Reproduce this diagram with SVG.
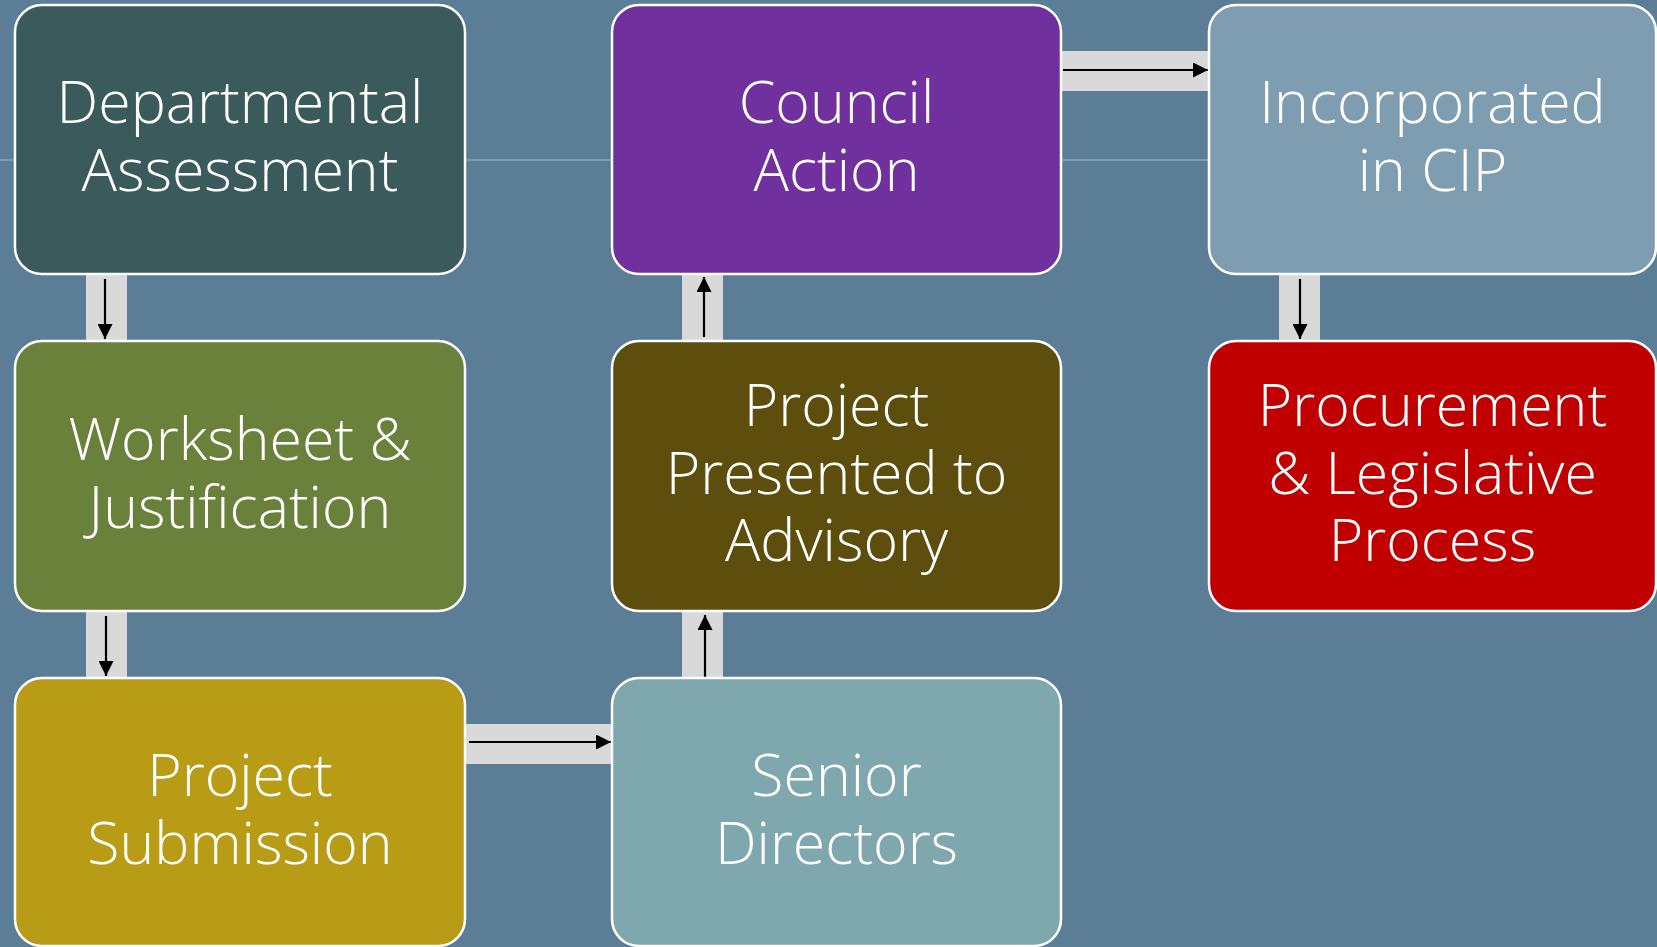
<svg xmlns="http://www.w3.org/2000/svg" width="1657" height="947" viewBox="0 0 1657 947">
<style>
.node rect{stroke:#ffffff;stroke-width:2.5}
.node text{fill:#ffffff;font-family:"Open Sans","Noto Sans","Liberation Sans",sans-serif;font-weight:300;font-size:59px;text-anchor:middle}
.band{fill:#d9d9d9}
.arrow{stroke:#000000;stroke-width:2.2;fill:none;marker-end:url(#ah)}
</style>
<defs>
<marker id="ah" viewBox="0 0 10 10" refX="10" refY="5" markerWidth="15" markerHeight="15" markerUnits="userSpaceOnUse" orient="auto">
<path d="M0,0 L10,5 L0,10 Z" fill="#000000"/>
</marker>
</defs>
<rect x="0" y="0" width="1657" height="947" fill="#5b7d96"/>
<line x1="0" y1="160" x2="1657" y2="160" stroke="#a3b8c8" stroke-width="1"/>
<g id="connectors">
<rect class="band" x="86" y="274" width="41" height="67"/>
<path class="arrow" d="M105,279 V339"/>
<rect class="band" x="86" y="611" width="41" height="67"/>
<path class="arrow" d="M106,616 V676"/>
<rect class="band" x="465" y="724" width="147" height="40"/>
<path class="arrow" d="M469,742 H611"/>
<rect class="band" x="682" y="611" width="41" height="67"/>
<path class="arrow" d="M705,677 V615"/>
<rect class="band" x="682" y="274" width="41" height="67"/>
<path class="arrow" d="M704,337 V277"/>
<rect class="band" x="1061" y="51" width="148" height="40"/>
<path class="arrow" d="M1063,70 H1208"/>
<rect class="band" x="1279" y="274" width="41" height="67"/>
<path class="arrow" d="M1300,279 V339"/>
</g>
<g id="n1" class="node">
<rect x="15" y="5" width="450" height="269" rx="27" fill="#3a5a5c"/>
<text x="240" y="123">Departmental<tspan x="240" dy="68">Assessment</tspan></text>
</g>
<g id="n2" class="node">
<rect x="15" y="341" width="450" height="270" rx="27" fill="#6a813c"/>
<text x="240" y="460">Worksheet &amp;<tspan x="240" dy="68">Justification</tspan></text>
</g>
<g id="n3" class="node">
<rect x="15" y="678" width="450" height="268" rx="27" fill="#b89c16"/>
<text x="240" y="796">Project<tspan x="240" dy="68">Submission</tspan></text>
</g>
<g id="n4" class="node">
<rect x="612" y="678" width="449" height="268" rx="27" fill="#7ea7ae"/>
<text x="836.5" y="796">Senior<tspan x="836.5" dy="68">Directors</tspan></text>
</g>
<g id="n5" class="node">
<rect x="612" y="341" width="449" height="270" rx="27" fill="#5d4e0d"/>
<text x="836.5" y="426">Project<tspan x="836.5" dy="67.5">Presented to</tspan><tspan x="836.5" dy="67.5">Advisory</tspan></text>
</g>
<g id="n6" class="node">
<rect x="612" y="5" width="449" height="269" rx="27" fill="#70309e"/>
<text x="836.5" y="123">Council<tspan x="836.5" dy="68">Action</tspan></text>
</g>
<g id="n7" class="node">
<rect x="1209" y="5" width="447" height="269" rx="27" fill="#7f9db0"/>
<text x="1432.5" y="123">Incorporated<tspan x="1432.5" dy="68">in CIP</tspan></text>
</g>
<g id="n8" class="node">
<rect x="1209" y="341" width="447" height="270" rx="27" fill="#c00000"/>
<text x="1432.5" y="426">Procurement<tspan x="1432.5" dy="67.5">&amp; Legislative</tspan><tspan x="1432.5" dy="67.5">Process</tspan></text>
</g>
</svg>
